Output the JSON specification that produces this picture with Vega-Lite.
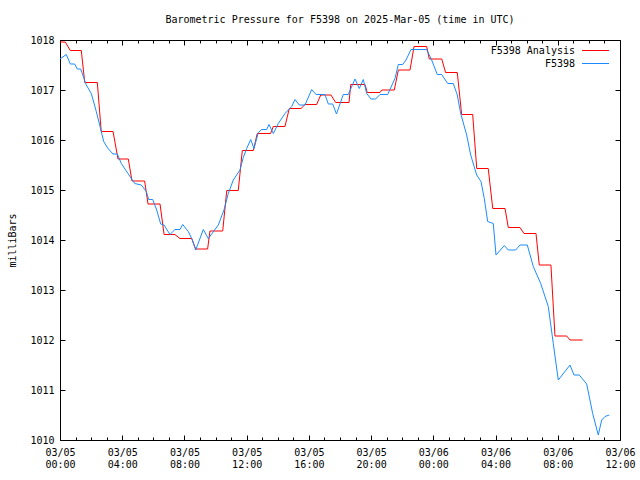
{
  "$schema": "https://vega.github.io/schema/vega-lite/v6.json",
  "width": 560,
  "height": 400,
  "autosize": {"type": "none"},
  "padding": {"left": 60, "top": 40, "right": 20, "bottom": 40},
  "background": "white",
  "title": {
    "text": "Barometric Pressure for F5398 on 2025-Mar-05 (time in UTC)",
    "font": "DejaVu Sans Mono",
    "fontSize": 10,
    "fontWeight": "normal",
    "color": "black",
    "anchor": "middle",
    "offset": 10
  },
  "config": {
    "view": {"stroke": "black", "strokeWidth": 1},
    "axis": {
      "grid": false,
      "domain": false,
      "tickColor": "black",
      "labelColor": "black",
      "labelFont": "DejaVu Sans Mono",
      "labelFontSize": 10,
      "titleFont": "DejaVu Sans Mono",
      "titleFontSize": 10,
      "titleFontWeight": "normal",
      "titleColor": "black"
    },
    "legend": {
      "labelFont": "DejaVu Sans Mono",
      "labelFontSize": 10,
      "labelColor": "black"
    }
  },
  "data": {
    "values": [
      {"s": "F5398 Analysis", "h": 0, "p": 1017.96},
      {"s": "F5398 Analysis", "h": 0.34, "p": 1017.96},
      {"s": "F5398 Analysis", "h": 0.66, "p": 1017.79},
      {"s": "F5398 Analysis", "h": 1.37, "p": 1017.79},
      {"s": "F5398 Analysis", "h": 1.59, "p": 1017.15},
      {"s": "F5398 Analysis", "h": 2.40, "p": 1017.15},
      {"s": "F5398 Analysis", "h": 2.65, "p": 1016.17},
      {"s": "F5398 Analysis", "h": 3.41, "p": 1016.17},
      {"s": "F5398 Analysis", "h": 3.73, "p": 1015.62},
      {"s": "F5398 Analysis", "h": 4.39, "p": 1015.62},
      {"s": "F5398 Analysis", "h": 4.63, "p": 1015.18},
      {"s": "F5398 Analysis", "h": 5.44, "p": 1015.18},
      {"s": "F5398 Analysis", "h": 5.66, "p": 1014.72},
      {"s": "F5398 Analysis", "h": 6.43, "p": 1014.72},
      {"s": "F5398 Analysis", "h": 6.69, "p": 1014.11},
      {"s": "F5398 Analysis", "h": 7.39, "p": 1014.11},
      {"s": "F5398 Analysis", "h": 7.71, "p": 1014.03},
      {"s": "F5398 Analysis", "h": 8.47, "p": 1014.03},
      {"s": "F5398 Analysis", "h": 8.72, "p": 1013.82},
      {"s": "F5398 Analysis", "h": 9.49, "p": 1013.82},
      {"s": "F5398 Analysis", "h": 9.64, "p": 1014.18},
      {"s": "F5398 Analysis", "h": 10.46, "p": 1014.18},
      {"s": "F5398 Analysis", "h": 10.72, "p": 1014.99},
      {"s": "F5398 Analysis", "h": 11.46, "p": 1014.99},
      {"s": "F5398 Analysis", "h": 11.72, "p": 1015.79},
      {"s": "F5398 Analysis", "h": 12.43, "p": 1015.79},
      {"s": "F5398 Analysis", "h": 12.68, "p": 1016.13},
      {"s": "F5398 Analysis", "h": 13.54, "p": 1016.13},
      {"s": "F5398 Analysis", "h": 13.71, "p": 1016.27},
      {"s": "F5398 Analysis", "h": 14.46, "p": 1016.27},
      {"s": "F5398 Analysis", "h": 14.74, "p": 1016.63},
      {"s": "F5398 Analysis", "h": 15.49, "p": 1016.63},
      {"s": "F5398 Analysis", "h": 15.75, "p": 1016.71},
      {"s": "F5398 Analysis", "h": 16.50, "p": 1016.71},
      {"s": "F5398 Analysis", "h": 16.76, "p": 1016.90},
      {"s": "F5398 Analysis", "h": 17.42, "p": 1016.90},
      {"s": "F5398 Analysis", "h": 17.72, "p": 1016.75},
      {"s": "F5398 Analysis", "h": 18.58, "p": 1016.75},
      {"s": "F5398 Analysis", "h": 18.69, "p": 1017.11},
      {"s": "F5398 Analysis", "h": 19.61, "p": 1017.11},
      {"s": "F5398 Analysis", "h": 19.75, "p": 1016.95},
      {"s": "F5398 Analysis", "h": 20.57, "p": 1016.95},
      {"s": "F5398 Analysis", "h": 20.68, "p": 1017.00},
      {"s": "F5398 Analysis", "h": 21.49, "p": 1017.00},
      {"s": "F5398 Analysis", "h": 21.75, "p": 1017.40},
      {"s": "F5398 Analysis", "h": 22.50, "p": 1017.40},
      {"s": "F5398 Analysis", "h": 22.76, "p": 1017.87},
      {"s": "F5398 Analysis", "h": 23.57, "p": 1017.87},
      {"s": "F5398 Analysis", "h": 23.74, "p": 1017.62},
      {"s": "F5398 Analysis", "h": 24.54, "p": 1017.62},
      {"s": "F5398 Analysis", "h": 24.79, "p": 1017.35},
      {"s": "F5398 Analysis", "h": 25.54, "p": 1017.35},
      {"s": "F5398 Analysis", "h": 25.82, "p": 1016.51},
      {"s": "F5398 Analysis", "h": 26.53, "p": 1016.51},
      {"s": "F5398 Analysis", "h": 26.79, "p": 1015.43},
      {"s": "F5398 Analysis", "h": 27.53, "p": 1015.43},
      {"s": "F5398 Analysis", "h": 27.82, "p": 1014.63},
      {"s": "F5398 Analysis", "h": 28.61, "p": 1014.63},
      {"s": "F5398 Analysis", "h": 28.82, "p": 1014.25},
      {"s": "F5398 Analysis", "h": 29.57, "p": 1014.25},
      {"s": "F5398 Analysis", "h": 29.83, "p": 1014.13},
      {"s": "F5398 Analysis", "h": 30.60, "p": 1014.13},
      {"s": "F5398 Analysis", "h": 30.81, "p": 1013.50},
      {"s": "F5398 Analysis", "h": 31.56, "p": 1013.50},
      {"s": "F5398 Analysis", "h": 31.82, "p": 1012.08},
      {"s": "F5398 Analysis", "h": 32.57, "p": 1012.08},
      {"s": "F5398 Analysis", "h": 32.79, "p": 1012.00},
      {"s": "F5398 Analysis", "h": 33.60, "p": 1012.00},
      {"s": "F5398", "h": 0, "p": 1017.62},
      {"s": "F5398", "h": 0.405, "p": 1017.71},
      {"s": "F5398", "h": 0.662, "p": 1017.52},
      {"s": "F5398", "h": 0.945, "p": 1017.52},
      {"s": "F5398", "h": 1.112, "p": 1017.42},
      {"s": "F5398", "h": 1.331, "p": 1017.42},
      {"s": "F5398", "h": 1.543, "p": 1017.23},
      {"s": "F5398", "h": 1.691, "p": 1017.10},
      {"s": "F5398", "h": 2.012, "p": 1016.93},
      {"s": "F5398", "h": 2.334, "p": 1016.57},
      {"s": "F5398", "h": 2.552, "p": 1016.30},
      {"s": "F5398", "h": 2.809, "p": 1015.97},
      {"s": "F5398", "h": 3.086, "p": 1015.83},
      {"s": "F5398", "h": 3.407, "p": 1015.72},
      {"s": "F5398", "h": 3.684, "p": 1015.72},
      {"s": "F5398", "h": 3.941, "p": 1015.53},
      {"s": "F5398", "h": 4.371, "p": 1015.33},
      {"s": "F5398", "h": 4.802, "p": 1015.13},
      {"s": "F5398", "h": 5.226, "p": 1015.10},
      {"s": "F5398", "h": 5.548, "p": 1014.97},
      {"s": "F5398", "h": 5.702, "p": 1014.81},
      {"s": "F5398", "h": 5.959, "p": 1014.81},
      {"s": "F5398", "h": 6.216, "p": 1014.60},
      {"s": "F5398", "h": 6.473, "p": 1014.32},
      {"s": "F5398", "h": 6.686, "p": 1014.30},
      {"s": "F5398", "h": 7.071, "p": 1014.11},
      {"s": "F5398", "h": 7.393, "p": 1014.21},
      {"s": "F5398", "h": 7.714, "p": 1014.21},
      {"s": "F5398", "h": 7.888, "p": 1014.31},
      {"s": "F5398", "h": 8.248, "p": 1014.17},
      {"s": "F5398", "h": 8.466, "p": 1014.03},
      {"s": "F5398", "h": 8.723, "p": 1013.80},
      {"s": "F5398", "h": 9.212, "p": 1014.21},
      {"s": "F5398", "h": 9.533, "p": 1014.03},
      {"s": "F5398", "h": 10.176, "p": 1014.30},
      {"s": "F5398", "h": 10.542, "p": 1014.60},
      {"s": "F5398", "h": 10.819, "p": 1014.93},
      {"s": "F5398", "h": 11.140, "p": 1015.20},
      {"s": "F5398", "h": 11.571, "p": 1015.40},
      {"s": "F5398", "h": 11.783, "p": 1015.65},
      {"s": "F5398", "h": 12.002, "p": 1015.83},
      {"s": "F5398", "h": 12.259, "p": 1016.01},
      {"s": "F5398", "h": 12.471, "p": 1015.83},
      {"s": "F5398", "h": 12.748, "p": 1016.15},
      {"s": "F5398", "h": 12.966, "p": 1016.21},
      {"s": "F5398", "h": 13.288, "p": 1016.21},
      {"s": "F5398", "h": 13.435, "p": 1016.31},
      {"s": "F5398", "h": 13.712, "p": 1016.13},
      {"s": "F5398", "h": 14.033, "p": 1016.33},
      {"s": "F5398", "h": 14.464, "p": 1016.53},
      {"s": "F5398", "h": 14.895, "p": 1016.67},
      {"s": "F5398", "h": 15.107, "p": 1016.81},
      {"s": "F5398", "h": 15.383, "p": 1016.70},
      {"s": "F5398", "h": 15.750, "p": 1016.70},
      {"s": "F5398", "h": 16.180, "p": 1017.01},
      {"s": "F5398", "h": 16.457, "p": 1016.91},
      {"s": "F5398", "h": 17.035, "p": 1016.91},
      {"s": "F5398", "h": 17.247, "p": 1016.72},
      {"s": "F5398", "h": 17.530, "p": 1016.72},
      {"s": "F5398", "h": 17.774, "p": 1016.52},
      {"s": "F5398", "h": 18.211, "p": 1016.91},
      {"s": "F5398", "h": 18.533, "p": 1016.91},
      {"s": "F5398", "h": 18.964, "p": 1017.22},
      {"s": "F5398", "h": 19.240, "p": 1017.03},
      {"s": "F5398", "h": 19.497, "p": 1017.21},
      {"s": "F5398", "h": 19.716, "p": 1016.93},
      {"s": "F5398", "h": 19.992, "p": 1016.82},
      {"s": "F5398", "h": 20.294, "p": 1016.82},
      {"s": "F5398", "h": 20.571, "p": 1016.91},
      {"s": "F5398", "h": 21.066, "p": 1016.91},
      {"s": "F5398", "h": 21.535, "p": 1017.23},
      {"s": "F5398", "h": 21.747, "p": 1017.51},
      {"s": "F5398", "h": 22.030, "p": 1017.51},
      {"s": "F5398", "h": 22.242, "p": 1017.60},
      {"s": "F5398", "h": 22.564, "p": 1017.81},
      {"s": "F5398", "h": 23.573, "p": 1017.81},
      {"s": "F5398", "h": 23.894, "p": 1017.60},
      {"s": "F5398", "h": 24.254, "p": 1017.31},
      {"s": "F5398", "h": 24.537, "p": 1017.31},
      {"s": "F5398", "h": 24.923, "p": 1017.13},
      {"s": "F5398", "h": 25.283, "p": 1017.13},
      {"s": "F5398", "h": 25.540, "p": 1016.90},
      {"s": "F5398", "h": 25.759, "p": 1016.53},
      {"s": "F5398", "h": 26.145, "p": 1016.10},
      {"s": "F5398", "h": 26.402, "p": 1015.70},
      {"s": "F5398", "h": 26.787, "p": 1015.30},
      {"s": "F5398", "h": 27.064, "p": 1015.17},
      {"s": "F5398", "h": 27.276, "p": 1014.83},
      {"s": "F5398", "h": 27.494, "p": 1014.37},
      {"s": "F5398", "h": 27.854, "p": 1014.33},
      {"s": "F5398", "h": 28.028, "p": 1013.70},
      {"s": "F5398", "h": 28.562, "p": 1013.89},
      {"s": "F5398", "h": 28.819, "p": 1013.80},
      {"s": "F5398", "h": 29.294, "p": 1013.80},
      {"s": "F5398", "h": 29.571, "p": 1013.90},
      {"s": "F5398", "h": 30.040, "p": 1013.90},
      {"s": "F5398", "h": 30.426, "p": 1013.47},
      {"s": "F5398", "h": 30.902, "p": 1013.13},
      {"s": "F5398", "h": 31.390, "p": 1012.67},
      {"s": "F5398", "h": 31.711, "p": 1011.93},
      {"s": "F5398", "h": 32.033, "p": 1011.20},
      {"s": "F5398", "h": 32.785, "p": 1011.50},
      {"s": "F5398", "h": 33.042, "p": 1011.30},
      {"s": "F5398", "h": 33.383, "p": 1011.30},
      {"s": "F5398", "h": 33.859, "p": 1011.12},
      {"s": "F5398", "h": 34.244, "p": 1010.53},
      {"s": "F5398", "h": 34.604, "p": 1010.10},
      {"s": "F5398", "h": 34.823, "p": 1010.40},
      {"s": "F5398", "h": 35.035, "p": 1010.47},
      {"s": "F5398", "h": 35.311, "p": 1010.50}
    ]
  },
  "resolve": {"axis": {"x": "independent", "y": "independent"}},
  "layer": [
    {
      "transform": [{"filter": "datum.s === 'F5398 Analysis'"}],
      "mark": {"type": "line", "strokeWidth": 1},
      "encoding": {
        "x": {
          "field": "h", "type": "quantitative",
          "scale": {"domain": [0, 36], "nice": false, "zero": false},
          "axis": {
            "orient": "bottom",
            "title": null,
            "values": [0,1,2,3,4,5,6,7,8,9,10,11,12,13,14,15,16,17,18,19,20,21,22,23,24,25,26,27,28,29,30,31,32,33,34,35,36],
            "tickSize": {"condition": {"test": "datum.value % 4 === 0", "value": -5}, "value": -3},
            "labelExpr": "datum.value % 4 === 0 ? [datum.value < 24 ? '03/05' : '03/06', (datum.value % 24 < 10 ? '0' : '') + (datum.value % 24) + ':00'] : ''",
            "labelPadding": 12,
            "labelLineHeight": 12,
            "labelFlush": false,
            "labelOverlap": false
          }
        },
        "y": {
          "field": "p", "type": "quantitative",
          "scale": {"domain": [1010, 1018], "nice": false, "zero": false},
          "axis": {
            "orient": "left",
            "title": "milliBars",
            "values": [1010,1011,1012,1013,1014,1015,1016,1017,1018],
            "format": "d",
            "tickSize": -5,
            "labelPadding": 11,
            "titlePadding": 12
          }
        },
        "color": {
          "field": "s", "type": "nominal",
          "scale": {"domain": ["F5398 Analysis", "F5398"], "range": ["#ff0000", "#1a8cff"]},
          "legend": {
            "title": null,
            "orient": "none",
            "legendX": 528,
            "legendY": 3,
            "padding": 0,
            "symbolType": "M-2,0H2",
            "symbolSize": 182,
            "symbolStrokeWidth": 1,
            "labelAlign": "right",
            "labelOffset": -28,
            "rowPadding": 0
          }
        }
      }
    },
    {
      "transform": [{"filter": "datum.s === 'F5398'"}],
      "mark": {"type": "line", "strokeWidth": 1},
      "encoding": {
        "x": {
          "field": "h", "type": "quantitative",
          "axis": {
            "orient": "top",
            "title": null,
            "values": [0,1,2,3,4,5,6,7,8,9,10,11,12,13,14,15,16,17,18,19,20,21,22,23,24,25,26,27,28,29,30,31,32,33,34,35,36],
            "tickSize": {"condition": {"test": "datum.value % 4 === 0", "value": -5}, "value": -3},
            "labels": false
          }
        },
        "y": {
          "field": "p", "type": "quantitative",
          "axis": {
            "orient": "right",
            "title": null,
            "values": [1010,1011,1012,1013,1014,1015,1016,1017,1018],
            "tickSize": -5,
            "labels": false
          }
        },
        "color": {"field": "s", "type": "nominal"}
      }
    }
  ]
}
